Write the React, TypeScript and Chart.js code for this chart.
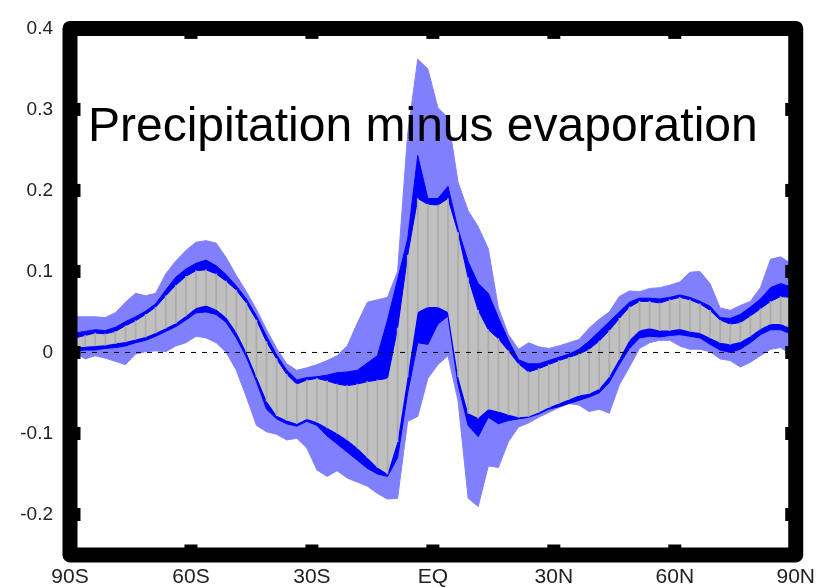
import React, { useEffect, useRef } from 'react';
import { Chart, registerables } from 'chart.js';

Chart.register(...registerables);

const chartTitle = 'Precipitation minus evaporation';

const latitudes = [
  -88.75, -86.25, -83.75, -81.25, -78.75, -76.25, -73.75, -71.25,
  -68.75, -66.25, -63.75, -61.25, -58.75, -56.25, -53.75, -51.25,
  -48.75, -46.25, -43.75, -41.25, -38.75, -36.25, -33.75, -31.25,
  -28.75, -26.25, -23.75, -21.25, -18.75, -16.25, -13.75, -11.25,
  -8.75, -6.25, -3.75, -1.25, 1.25, 3.75, 6.25, 8.75,
  11.25, 13.75, 16.25, 18.75, 21.25, 23.75, 26.25, 28.75,
  31.25, 33.75, 36.25, 38.75, 41.25, 43.75, 46.25, 48.75,
  51.25, 53.75, 56.25, 58.75, 61.25, 63.75, 66.25, 68.75,
  71.25, 73.75, 76.25, 78.75, 81.25, 83.75, 86.25, 88.75,
];

const lightUpper = [
  0.044, 0.044, 0.044, 0.043, 0.049, 0.062, 0.073, 0.070,
  0.073, 0.097, 0.113, 0.126, 0.136, 0.138, 0.135, 0.117,
  0.095, 0.075, 0.053, 0.028, 0.005, -0.014, -0.022, -0.019,
  -0.015, -0.010, -0.004, 0.008, 0.036, 0.062, 0.065, 0.068,
  0.100, 0.270, 0.362, 0.350, 0.302, 0.290, 0.210, 0.175,
  0.155, 0.128, 0.055, 0.022, 0.004, 0.012, 0.007, 0.005,
  0.008, 0.012, 0.016, 0.030, 0.041, 0.050, 0.069, 0.076,
  0.075, 0.079, 0.080, 0.083, 0.087, 0.099, 0.100, 0.085,
  0.055, 0.052, 0.058, 0.063, 0.080, 0.115, 0.118, 0.110,
];

const darkUpper = [
  0.024, 0.026, 0.028, 0.027, 0.031, 0.038, 0.044, 0.051,
  0.060, 0.077, 0.093, 0.103, 0.110, 0.114, 0.107, 0.096,
  0.082, 0.066, 0.045, 0.020, -0.003, -0.022, -0.034, -0.031,
  -0.030, -0.028, -0.025, -0.024, -0.022, -0.013, -0.004, 0.040,
  0.090, 0.140, 0.243, 0.190, 0.190, 0.205, 0.152, 0.112,
  0.085, 0.073, 0.043, 0.015, -0.009, -0.014, -0.014, -0.010,
  -0.006, -0.002, 0.004, 0.014, 0.026, 0.038, 0.050, 0.062,
  0.067, 0.067, 0.066, 0.068, 0.071, 0.068, 0.063, 0.057,
  0.043, 0.042, 0.047, 0.056, 0.066, 0.080, 0.085, 0.081,
];

const grayUpper = [
  0.018, 0.021, 0.024, 0.023, 0.026, 0.033, 0.039, 0.047,
  0.056, 0.070, 0.083, 0.094, 0.101, 0.102, 0.097, 0.088,
  0.077, 0.061, 0.040, 0.013, -0.008, -0.027, -0.039, -0.034,
  -0.032, -0.035, -0.039, -0.041, -0.039, -0.036, -0.034, -0.032,
  0.030, 0.120, 0.190, 0.183, 0.182, 0.190, 0.148, 0.092,
  0.052, 0.028, 0.017, 0.002, -0.014, -0.024, -0.020, -0.015,
  -0.010, -0.006, -0.002, 0.004, 0.014, 0.027, 0.042, 0.056,
  0.063, 0.063, 0.061, 0.065, 0.068, 0.065, 0.060, 0.052,
  0.040, 0.035, 0.037, 0.045, 0.054, 0.063, 0.069, 0.068,
];

const grayLower = [
  0.006, 0.007, 0.008, 0.009, 0.011, 0.013, 0.016, 0.019,
  0.024, 0.030, 0.036, 0.045, 0.055, 0.058, 0.053, 0.043,
  0.025, 0.000, -0.030, -0.060, -0.078, -0.084, -0.088, -0.082,
  -0.086, -0.093, -0.100, -0.108, -0.118, -0.130, -0.142, -0.150,
  -0.110, -0.030, 0.050, 0.056, 0.056, 0.050, -0.030, -0.075,
  -0.081, -0.070, -0.073, -0.077, -0.080, -0.079, -0.074, -0.068,
  -0.063, -0.058, -0.053, -0.051, -0.045, -0.030, -0.008, 0.015,
  0.027, 0.030, 0.027, 0.027, 0.029, 0.026, 0.024, 0.018,
  0.012, 0.010, 0.013, 0.020, 0.029, 0.035, 0.035, 0.030,
];

const darkLower = [
  0.002, 0.003, 0.003, 0.005, 0.006, 0.008, 0.012, 0.015,
  0.020, 0.026, 0.032, 0.040, 0.049, 0.050, 0.047, 0.037,
  0.018, -0.006, -0.036, -0.070, -0.082, -0.088, -0.091, -0.085,
  -0.090, -0.103, -0.113, -0.123, -0.133, -0.143, -0.150, -0.153,
  -0.130, -0.050, 0.012, 0.010, 0.035, 0.045, -0.040, -0.090,
  -0.104, -0.080, -0.088, -0.084, -0.082, -0.080, -0.076, -0.070,
  -0.067, -0.063, -0.059, -0.055, -0.050, -0.037, -0.015, 0.005,
  0.018, 0.020, 0.019, 0.021, 0.022, 0.020, 0.018, 0.010,
  0.003, 0.000, 0.004, 0.012, 0.022, 0.028, 0.028, 0.023,
];

const lightLower = [
  0.000, -0.008, -0.004, -0.007, -0.011, -0.015, -0.002, 0.001,
  0.002, 0.001, 0.008, 0.012, 0.020, 0.018, 0.012, 0.000,
  -0.022, -0.055, -0.090, -0.098, -0.101, -0.108, -0.106, -0.118,
  -0.145, -0.153, -0.146, -0.155, -0.160, -0.165, -0.174, -0.181,
  -0.180, -0.085, -0.079, -0.032, -0.015, -0.004, -0.060, -0.180,
  -0.190, -0.140, -0.142, -0.110, -0.092, -0.087, -0.080, -0.074,
  -0.068, -0.063, -0.065, -0.073, -0.070, -0.075, -0.040, -0.018,
  0.005, 0.012, 0.015, 0.015, 0.008, 0.004, 0.004, 0.001,
  -0.008, -0.010, -0.018, -0.012, -0.004, 0.004, 0.006, -0.002,
];

const xTickValues = [-90, -60, -30, 0, 30, 60, 90];
const xTickLabels = ['90S', '60S', '30S', 'EQ', '30N', '60N', '90N'];
const yTickValues = [-0.2, -0.1, 0, 0.1, 0.2, 0.3, 0.4];
const yTickLabels = ['-0.2', '-0.1', '0', '0.1', '0.2', '0.3', '0.4'];

const LIGHT = 'rgb(128,128,255)';
const DARK = 'rgb(0,0,255)';
const GRAY = 'rgb(192,192,192)';
const HATCH = 'rgb(170,170,170)';

const toPoints = (arr: number[]) => latitudes.map((x, i) => ({ x, y: arr[i] }));

const framePlugin = {
  id: 'frame',
  afterDatasetsDraw(chart: any) {
    const { ctx, chartArea, scales } = chart;
    const { left, top, right, bottom } = chartArea;
    const xs = scales.x;
    const ys = scales.y;
    ctx.save();
    ctx.strokeStyle = '#000';
    ctx.lineWidth = 15;
    ctx.lineJoin = 'round';
    ctx.strokeRect(left, top, right - left, bottom - top);
    ctx.fillStyle = '#000';
    const half = 7.5;
    const len = 3;
    const w = 13;
    yTickValues.forEach((v) => {
      if (v >= 0.4) return;
      const py = ys.getPixelForValue(v);
      ctx.fillRect(left, py - w / 2, half + len, w);
      ctx.fillRect(right - half - len, py - w / 2, half + len, w);
    });
    xTickValues.forEach((v) => {
      if (v <= -90 || v >= 90) return;
      const px = xs.getPixelForValue(v);
      ctx.fillRect(px - w / 2, top, w, half + len);
      ctx.fillRect(px - w / 2, bottom - half - len, w, half + len);
    });
    ctx.restore();
  },
  afterDraw(chart: any) {
    const { ctx, chartArea } = chart;
    ctx.save();
    ctx.font = '48px "Liberation Sans", Arial, sans-serif';
    ctx.fillStyle = '#000';
    ctx.textBaseline = 'alphabetic';
    ctx.textAlign = 'left';
    ctx.fillText(chartTitle, chartArea.left + 18, chartArea.top + 113);
    ctx.restore();
  },
};

export default function App() {
  const canvasRef = useRef<HTMLCanvasElement | null>(null);

  useEffect(() => {
    if (!canvasRef.current) return;
    const tickFont = { family: '"Liberation Sans", Arial, sans-serif', size: 19 };
    const chart = new Chart(canvasRef.current, {
      type: 'line',
      data: {
        datasets: [
          {
            type: 'line',
            label: 'zero',
            data: [{ x: -90, y: 0 }, { x: 90, y: 0 }],
            borderColor: '#000',
            borderWidth: 1,
            borderDash: [5, 6],
            pointRadius: 0,
            fill: false,
            order: 0,
          },
          {
            type: 'bar',
            label: 'hatch',
            data: latitudes.map((x, i) => ({ x, y: [grayLower[i], grayUpper[i]] })),
            backgroundColor: HATCH,
            borderWidth: 0,
            barThickness: 1,
            grouped: false,
            order: 1,
          },
          {
            type: 'line',
            label: 'gray upper',
            data: toPoints(grayUpper),
            borderColor: DARK,
            borderWidth: 1,
            pointRadius: 0,
            tension: 0,
            fill: { target: '+1', above: GRAY, below: GRAY },
            order: 2,
          },
          {
            type: 'line',
            label: 'gray lower',
            data: toPoints(grayLower),
            borderColor: DARK,
            borderWidth: 1,
            pointRadius: 0,
            tension: 0,
            fill: false,
            order: 3,
          },
          {
            type: 'line',
            label: 'dark upper',
            data: toPoints(darkUpper),
            borderColor: DARK,
            borderWidth: 1,
            pointRadius: 0,
            tension: 0,
            fill: { target: '+1', above: DARK, below: DARK },
            order: 4,
          },
          {
            type: 'line',
            label: 'dark lower',
            data: toPoints(darkLower),
            borderColor: DARK,
            borderWidth: 1,
            pointRadius: 0,
            tension: 0,
            fill: false,
            order: 5,
          },
          {
            type: 'line',
            label: 'light upper',
            data: toPoints(lightUpper),
            borderColor: LIGHT,
            borderWidth: 1,
            pointRadius: 0,
            tension: 0,
            fill: { target: '+1', above: LIGHT, below: LIGHT },
            order: 6,
          },
          {
            type: 'line',
            label: 'light lower',
            data: toPoints(lightLower),
            borderColor: LIGHT,
            borderWidth: 1,
            pointRadius: 0,
            tension: 0,
            fill: false,
            order: 7,
          },
        ],
      },
      options: {
        responsive: false,
        animation: false,
        events: [],
        layout: { padding: { left: 0, right: 22, top: 21, bottom: 0 } },
        plugins: {
          legend: { display: false },
          tooltip: { enabled: false },
          title: { display: false },
        },
        scales: {
          x: {
            type: 'linear',
            min: -90,
            max: 90,
            offset: false,
            afterBuildTicks: (scale: any) => {
              scale.ticks = xTickValues.map((v) => ({ value: v }));
            },
            afterFit: (scale: any) => {
              scale.height = 33;
            },
            ticks: {
              autoSkip: false,
              maxRotation: 0,
              minRotation: 0,
              padding: 10,
              color: '#222',
              font: { ...tickFont, size: 21 },
              callback: (_v: any, i: number) => xTickLabels[i],
            },
            grid: { display: false, drawTicks: false },
            border: { display: false },
          },
          y: {
            type: 'linear',
            min: -0.25,
            max: 0.4,
            afterBuildTicks: (scale: any) => {
              scale.ticks = yTickValues.map((v) => ({ value: v }));
            },
            afterFit: (scale: any) => {
              scale.width = 70;
            },
            ticks: {
              autoSkip: false,
              padding: 17,
              color: '#222',
              font: tickFont,
              callback: (_v: any, i: number) => yTickLabels[i],
            },
            grid: { display: false, drawTicks: false },
            border: { display: false },
          },
        },
      },
      plugins: [framePlugin],
    } as any);
    return () => chart.destroy();
  }, []);

  return (
    <div style={{ position: 'fixed', left: 0, top: 0, width: 825, height: 588, background: '#fff' }}>
      <canvas ref={canvasRef} width={825} height={588} />
    </div>
  );
}
